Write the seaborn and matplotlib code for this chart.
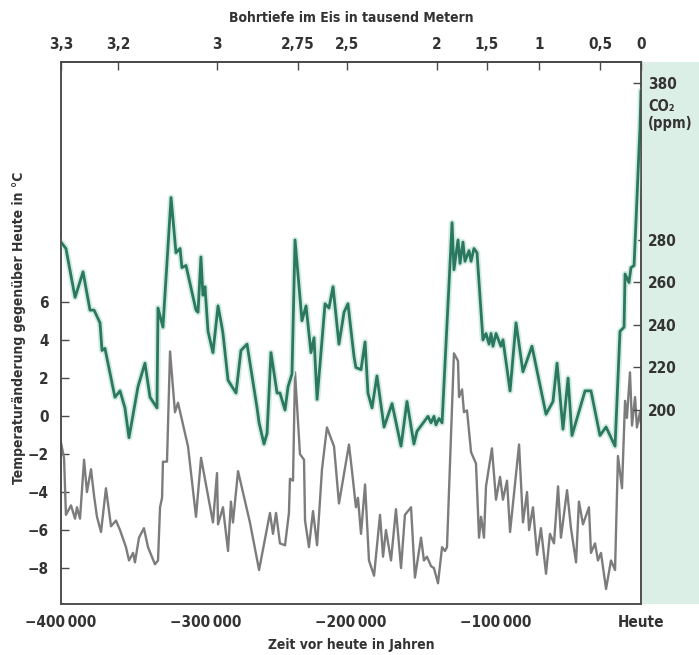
import numpy as np
import pandas as pd
import matplotlib
matplotlib.use("Agg")
import matplotlib.pyplot as plt
import seaborn as sns
from matplotlib import font_manager as fm
from matplotlib.patches import Rectangle

# ---------------- data ----------------
co2_ka = [-400.0, -396.6, -390.3, -384.8, -380.0, -377.2, -373.1, -371.7, -369.7, -362.8,
          -359.3, -355.9, -353.1, -346.9, -342.1, -338.6, -333.8, -333.1, -329.7, -324.1,
          -320.7, -317.9, -316.6, -313.8, -306.9, -305.5, -303.5, -302.1, -300.7, -298.6,
          -295.2, -291.7, -289.0, -288.3, -284.8, -279.3, -275.9, -271.7, -264.8, -263.4,
          -260.0, -257.9, -255.2, -251.0, -249.0, -245.5, -243.4, -240.7, -238.6, -233.8,
          -231.0, -227.6, -225.5, -223.4, -217.9, -215.2, -212.4, -208.3, -204.8, -202.1,
          -197.9, -196.6, -193.1, -190.3, -188.3, -185.5, -182.1, -177.2, -171.7, -165.5,
          -161.4, -156.6, -154.5, -146.9, -144.8, -142.8, -141.4, -139.3, -137.2, -130.3,
          -129.0, -126.2, -124.8, -122.8, -121.4, -118.6, -117.2, -115.2, -113.1, -109.0,
          -106.9, -104.8, -103.4, -102.1, -100.0, -96.6, -95.2, -90.3, -86.2, -81.4,
          -75.2, -65.5, -60.7, -57.9, -53.8, -50.3, -47.6, -38.6, -34.5, -28.3,
          -24.1, -17.9, -14.5, -11.7, -11.0, -8.3, -6.9, -4.8, -3.4, -0.7, 0.0]
co2_ppm = [279, 276, 253, 265, 247, 247, 241, 228, 229, 206,
           209, 201, 187, 211, 222, 206, 201, 248, 239, 307,
           274, 276, 267, 268, 247, 246, 272, 254, 258, 237,
           227, 249, 239, 236, 214, 208, 228, 231, 201, 194,
           184, 189, 227, 208, 208, 200, 211, 217, 280, 242,
           249, 227, 234, 205, 250, 248, 258, 231, 246, 250,
           225, 220, 219, 232, 208, 201, 216, 192, 203, 183,
           204, 184, 190, 197, 194, 197, 193, 196, 194, 291,
           266, 280, 269, 279, 270, 275, 270, 276, 274, 233,
           236, 231, 236, 230, 236, 230, 233, 209, 241, 218,
           230, 198, 204, 222, 191, 215, 188, 209, 209, 188,
           192, 183, 237, 239, 264, 260, 267, 268, 293, 352, 375]

temp_ka = [-400.0, -397.9, -396.6, -393.1, -390.3, -389.0, -386.9, -384.1, -382.1, -379.3,
           -377.2, -375.2, -372.4, -369.0, -365.5, -362.1, -359.3, -355.2, -353.1, -350.3,
           -349.0, -346.2, -342.8, -340.0, -335.2, -333.1, -331.7, -330.3, -329.7, -326.9,
           -324.8, -321.4, -319.3, -312.4, -306.9, -303.4, -295.2, -292.4, -291.7, -288.3,
           -284.8, -282.8, -281.4, -277.9, -269.7, -263.4, -255.9, -253.8, -251.7, -249.0,
           -245.5, -242.8, -242.1, -240.0, -238.6, -235.2, -232.4, -231.7, -229.0, -226.2,
           -223.4, -220.0, -216.6, -211.7, -208.3, -201.4, -199.3, -196.6, -195.2, -193.1,
           -190.3, -187.6, -184.1, -180.0, -177.9, -175.9, -172.4, -169.0, -165.5, -162.8,
           -158.6, -155.9, -151.7, -149.7, -147.6, -144.8, -142.8, -140.0, -137.2, -135.2,
           -133.8, -129.0, -126.2, -125.5, -123.4, -122.1, -120.0, -117.2, -113.8, -111.7,
           -110.3, -108.3, -106.9, -102.8, -100.0, -97.2, -95.2, -92.4, -90.3, -84.1,
           -81.4, -78.6, -77.2, -74.5, -71.7, -69.0, -65.5, -62.8, -60.0, -57.2,
           -55.2, -51.0, -48.3, -44.8, -42.8, -40.0, -35.9, -34.5, -31.7, -29.7,
           -27.6, -24.1, -20.7, -17.9, -15.9, -13.1, -11.0, -9.7, -7.6, -6.2,
           -4.1, -2.8, -0.7, 0.0]
temp_c = [-1.4, -2.2, -5.2, -4.7, -5.4, -4.8, -5.4, -2.3, -4.0, -2.8,
          -4.2, -5.3, -6.1, -3.8, -5.8, -5.5, -6.0, -6.9, -7.6, -7.2,
          -7.7, -6.4, -5.9, -6.9, -7.8, -7.6, -4.8, -4.3, -2.4, -2.4,
          3.4, 0.2, 0.7, -1.6, -5.3, -2.2, -5.6, -3.0, -5.7, -4.8,
          -7.1, -4.5, -5.6, -2.9, -5.6, -8.1, -5.1, -6.2, -5.1, -6.7,
          -6.8, -5.1, -3.3, -3.4, 2.3, -2.0, -2.3, -5.5, -6.9, -5.0,
          -6.8, -2.8, -0.6, -1.6, -4.6, -1.5, -2.9, -4.8, -4.3, -6.2,
          -3.6, -7.6, -8.4, -5.2, -7.4, -6.0, -7.6, -4.9, -8.0, -5.2,
          -4.8, -8.5, -6.4, -7.6, -7.4, -7.9, -8.0, -8.8, -6.9, -7.1,
          -6.9, 3.3, 2.9, 1.0, 1.4, 0.2, 0.3, -1.9, -2.5, -6.4,
          -5.3, -6.4, -3.7, -1.7, -4.4, -3.2, -4.4, -3.4, -6.1, -1.5,
          -5.6, -4.0, -6.0, -4.8, -7.3, -5.9, -8.3, -6.2, -6.7, -3.7,
          -6.4, -3.9, -5.9, -7.7, -4.5, -5.7, -4.8, -7.2, -6.7, -7.6,
          -7.2, -9.1, -7.6, -8.1, -2.1, -3.8, 0.8, -0.1, 2.3, -0.5,
          1.0, -0.6, 0.2, -0.4]

time_ticks = [-400000, -300000, -200000, -100000, 0]
time_labels = ["\u2212400\u2009000", "\u2212300\u2009000", "\u2212200\u2009000", "\u2212100\u2009000", "Heute"]
depth_ka = [-400.0, -360.7, -292.4, -236.6, -202.8, -140.7, -106.2, -70.3, -28.3, 0.0]
depth_labels = ["3,3", "3,2", "3", "2,75", "2,5", "2", "1,5", "1", "0,5", "0"]
temp_ticks = [-8, -6, -4, -2, 0, 2, 4, 6]
co2_ticks = [200, 220, 240, 260, 280, 380]

# ---------------- font: prefer a condensed face ----------------
def _w(f):
    w = f.weight
    if isinstance(w, str):
        w = {"normal": 400, "regular": 400, "book": 400, "medium": 500,
             "semibold": 600, "demibold": 600, "bold": 700, "heavy": 800,
             "black": 900, "light": 300}.get(w.lower(), 400)
    return w

cands = []
for f in fm.fontManager.ttflist:
    n = f.name.lower()
    st = str(f.stretch).lower()
    if ("narrow" in n or "condensed" in n or
            st in ("condensed", "semi-condensed", "extra-condensed", "narrow")):
        if "cjk" in n or "mono" in n or "serif" in n:
            continue
        if f.style != "normal":
            continue
        cands.append(f)
cands.sort(key=lambda f: abs(_w(f) - 650))
FONT_PATH = cands[0].fname if cands else None

def fp(size):
    if FONT_PATH:
        return fm.FontProperties(fname=FONT_PATH, size=size)
    return fm.FontProperties(family=["Roboto", "DejaVu Sans"], weight="bold",
                             size=size * 0.86)

sns.set_theme(style="white")
plt.rcParams["font.family"] = ["DejaVu Sans"]

TXT = "#333333"
SPINE = "#4a4a4a"
GREEN = "#2a7860"
GLOW = "#d3ebe1"
GREY = "#7c7c7c"

fig = plt.figure(figsize=(6.99, 6.55), dpi=100)
fig.patch.set_facecolor("white")
ax = fig.add_axes([61 / 699, 51 / 655, 580 / 699, 542 / 655])
fig.add_artist(Rectangle((642 / 699, 51 / 655), 57 / 699, 542 / 655,
                         transform=fig.transFigure, facecolor="#dcefe7",
                         edgecolor="none", zorder=-5))

df_t = pd.DataFrame({"year": np.array(temp_ka) * 1000, "temp": temp_c})
sns.lineplot(data=df_t, x="year", y="temp", ax=ax, color=GREY, lw=1.7,
             sort=False, estimator=None)

ax2 = ax.twinx()
df_c = pd.DataFrame({"year": np.array(co2_ka) * 1000, "co2": co2_ppm})
sns.lineplot(data=df_c, x="year", y="co2", ax=ax2, color=GLOW, lw=4.5,
             sort=False, estimator=None, solid_joinstyle="round")
sns.lineplot(data=df_c, x="year", y="co2", ax=ax2, color=GREEN, lw=2.0,
             sort=False, estimator=None)

K = 0.74
def fwd(v):
    v = np.asarray(v, dtype=float)
    return np.where(v <= 280, v, 280 + (v - 280) * K)
def inv(u):
    u = np.asarray(u, dtype=float)
    return np.where(u <= 280, u, 280 + (u - 280) / K)
ax2.set_yscale("function", functions=(fwd, inv))
ax2.set_ylim(108.7, 393.2)
ax2.set_yticks(co2_ticks)
ax2.set_yticklabels([str(t) for t in co2_ticks])
ax2.yaxis.set_minor_locator(matplotlib.ticker.NullLocator())
ax2.set_ylabel("")
ax2.set_xlabel("")

ax.set_xlim(-400000, 0)
ax.set_ylim(-9.89, 18.63)
ax.set_xticks(time_ticks)
ax.set_xticklabels(time_labels)
ax.set_yticks(temp_ticks)
ax.set_yticklabels([f"\u2212{abs(t)}" if t < 0 else str(t) for t in temp_ticks])
ax.set_facecolor("white")

for a in (ax, ax2):
    for sp in a.spines.values():
        sp.set_color(SPINE)
        sp.set_linewidth(1.1)

TS = 11
ax.tick_params(axis="both", direction="in", length=6, width=1, color=SPINE,
               labelcolor=TXT)
ax.tick_params(axis="x", pad=8)
ax.tick_params(axis="y", pad=9)
ax2.tick_params(axis="y", direction="in", length=6, width=1, color=SPINE,
                labelcolor=TXT, pad=5)
for lab in ax.get_xticklabels() + ax.get_yticklabels() + ax2.get_yticklabels():
    lab.set_fontproperties(fp(TS))

sec = ax.secondary_xaxis("top")
sec.set_xticks(np.array(depth_ka) * 1000)
sec.set_xticklabels(depth_labels)
sec.tick_params(direction="in", length=6, width=1, color=SPINE,
                labelcolor=TXT, pad=7)
sec.spines["top"].set_color(SPINE)
for lab in sec.get_xticklabels():
    lab.set_fontproperties(fp(TS))
sec.set_xlabel("Bohrtiefe im Eis in tausend Metern", fontproperties=fp(10),
               color=TXT, labelpad=11)

ax.set_xlabel("Zeit vor heute in Jahren", fontproperties=fp(10),
              color=TXT, labelpad=6)
ax.set_ylabel("Temperaturänderung gegenüber Heute in °C", fontproperties=fp(10),
              color=TXT)
ax.yaxis.set_label_coords(-0.06, 0.51)

ax2.text(1.012, 0.932, "CO\u2082\n(ppm)", transform=ax2.transAxes,
         ha="left", va="top", fontproperties=fp(10.5), color=TXT,
         linespacing=1.2)

fig.savefig("out.png", dpi=100, facecolor="white")
